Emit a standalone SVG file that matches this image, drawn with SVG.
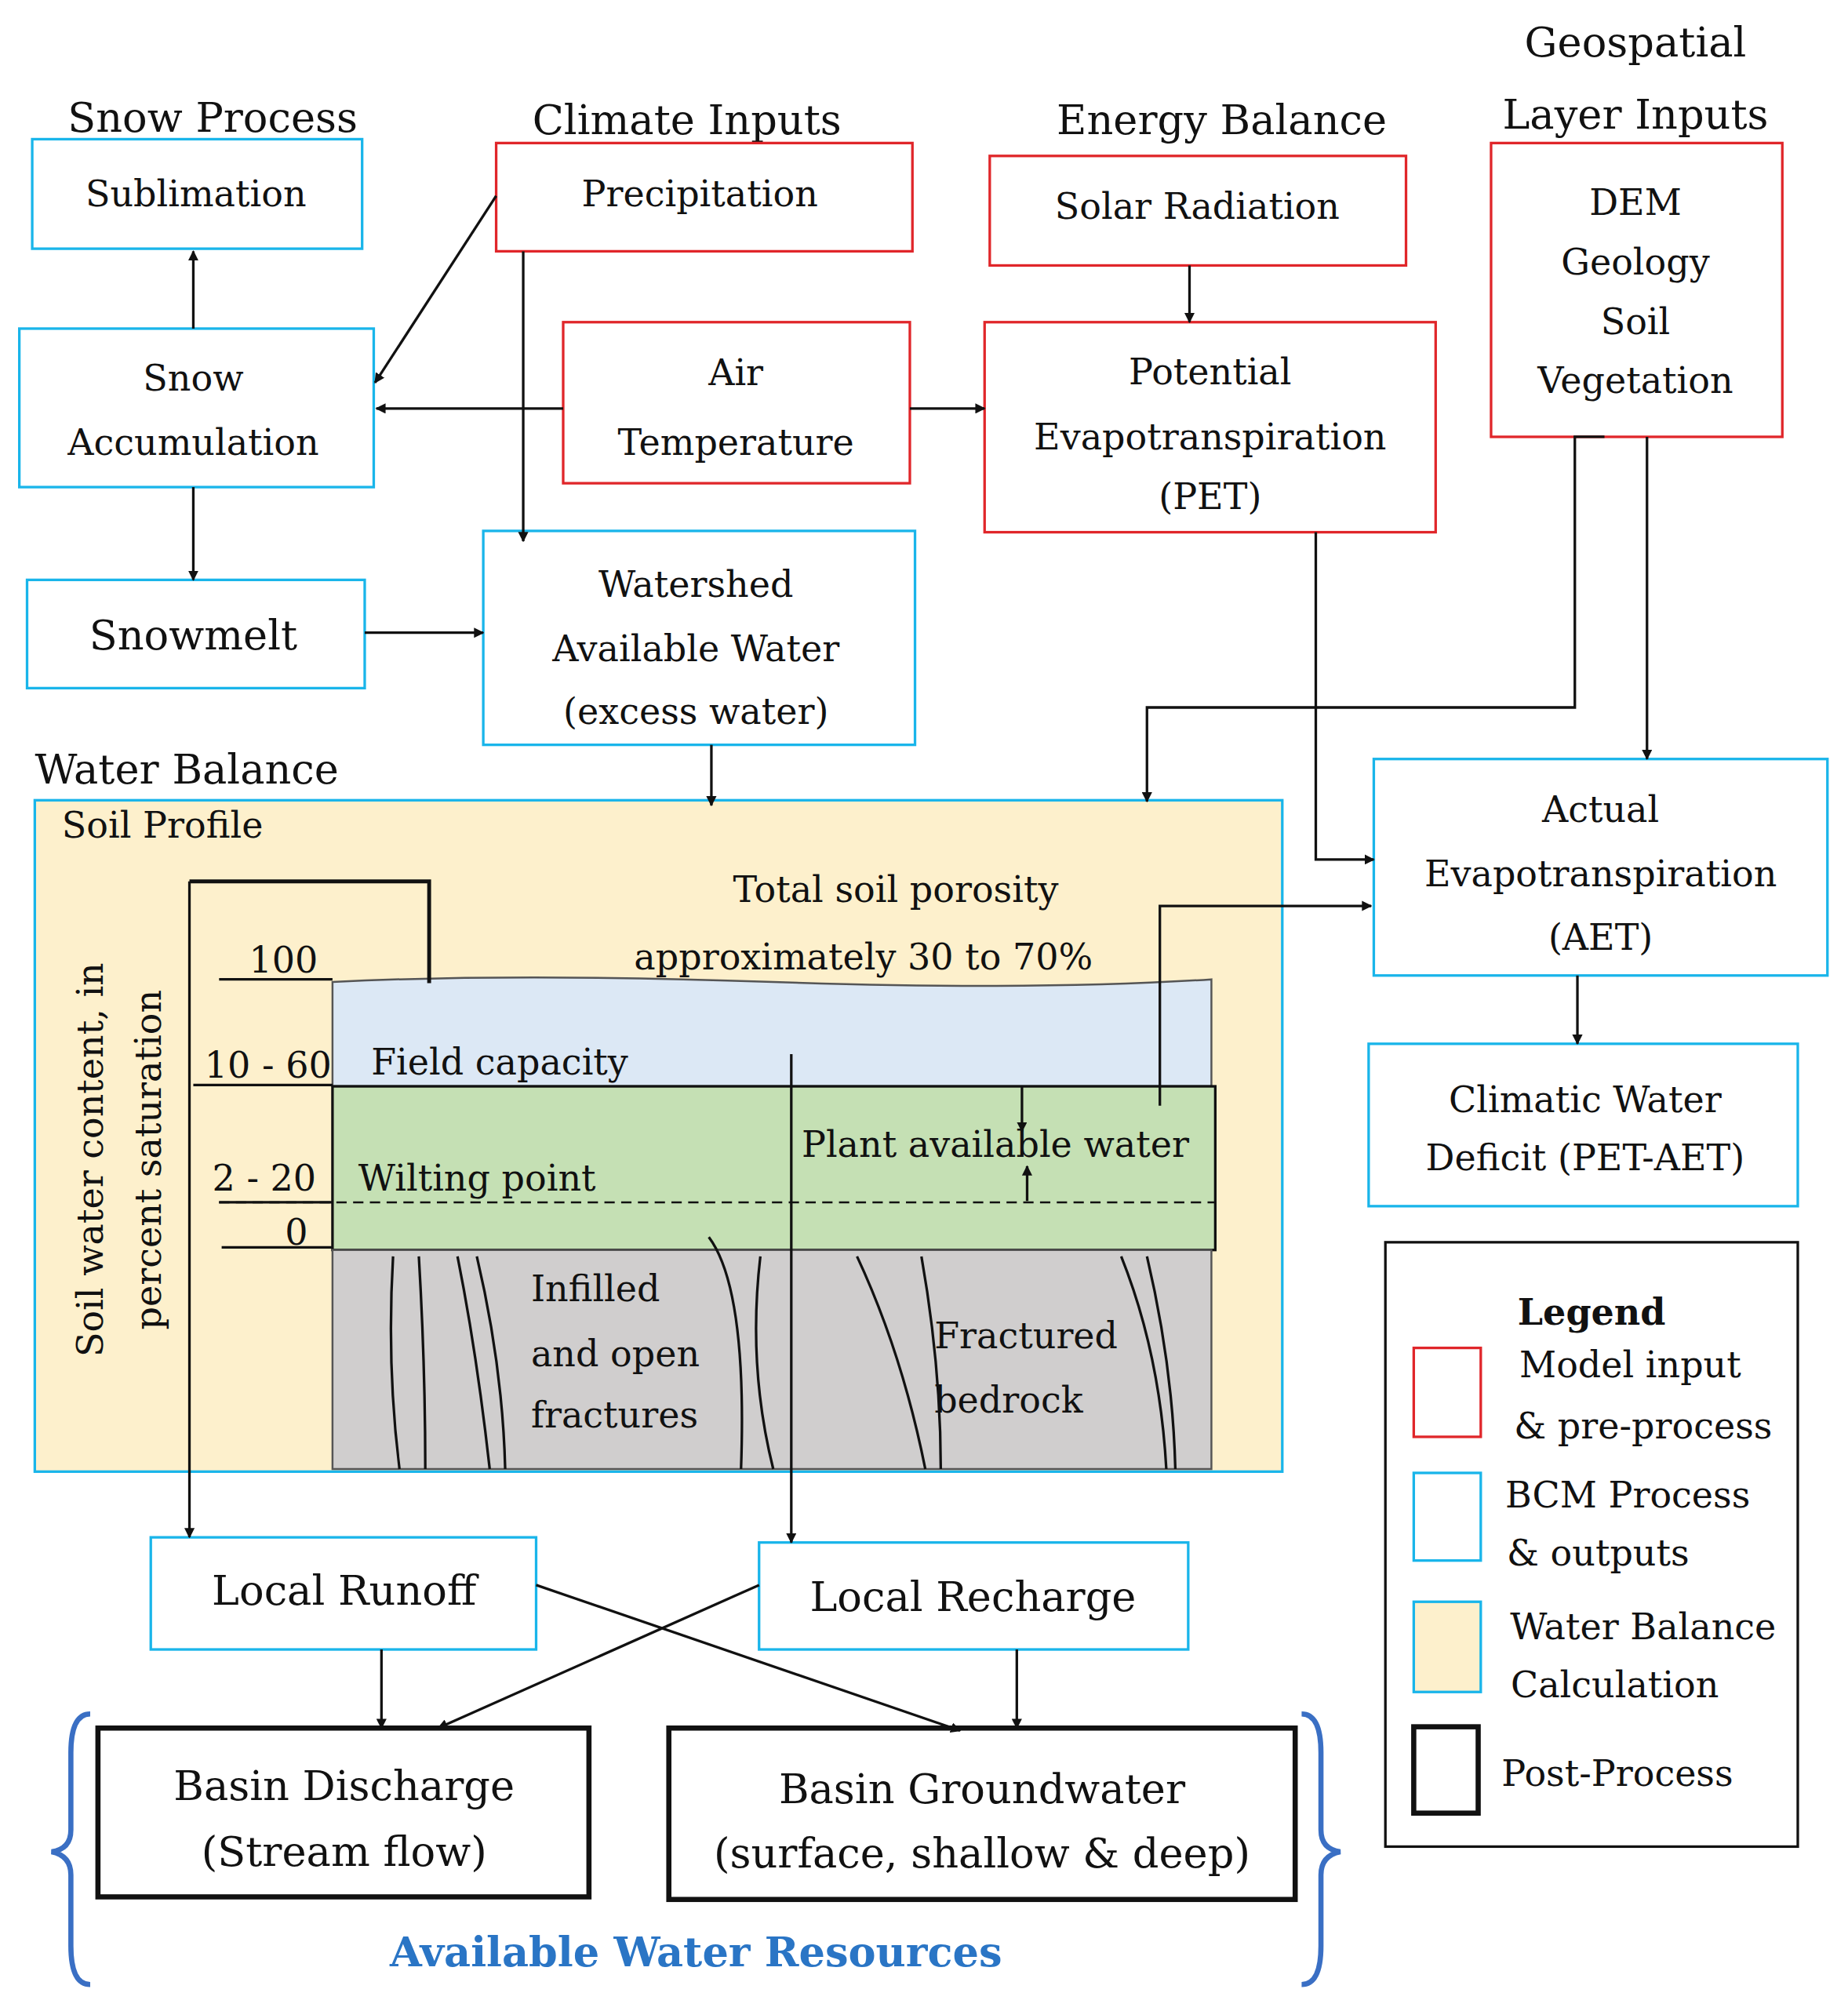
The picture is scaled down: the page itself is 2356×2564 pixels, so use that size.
<svg xmlns="http://www.w3.org/2000/svg" width="2356" height="2564" viewBox="0 0 2356 2564">
<style>
text{font-family:"DejaVu Serif","Liberation Serif",serif;font-size:28px;fill:#111;text-anchor:middle}
.t{font-size:32px}
.l{text-anchor:start}
.r{fill:#fff;stroke:#e0262a;stroke-width:2}
.c{fill:#fff;stroke:#19b5ea;stroke-width:2}
.k{fill:#fff;stroke:#111;stroke-width:4}
.ln{fill:none;stroke:#111;stroke-width:2}
</style>
<defs><marker id="a" viewBox="0 0 10 10" refX="9" refY="5" markerWidth="8" markerHeight="8" markerUnits="userSpaceOnUse" orient="auto"><path d="M0,0L10,5L0,10z" fill="#111"/></marker>
<marker id="b" viewBox="0 0 10 10" refX="9" refY="5" markerWidth="14" markerHeight="14" markerUnits="userSpaceOnUse" orient="auto"><path d="M0,0L10,5L0,10z" fill="#111"/></marker></defs>
<rect width="2356" height="2564" fill="#fff"/>
<g transform="scale(1.643)">
<g id="titles">
<text class="t" x="165" y="102">Snow Process</text>
<text class="t" x="533" y="104">Climate Inputs</text>
<text class="t" x="948" y="104">Energy Balance</text>
<text class="t" x="1269" y="44">Geospatial</text>
<text class="t" x="1269" y="100">Layer Inputs</text>
<text class="t" x="145" y="608">Water Balance</text>
</g>
<g id="waterbalance">
<rect x="27" y="621" width="968" height="521" fill="#fdf0cc" stroke="#19b5ea" stroke-width="2"/>
<text class="l" x="48" y="650">Soil Profile</text>
<path d="M258,762 Q400,755 600,762 T940,760 L940,843 L258,843Z" fill="#dce8f5" stroke="#555" stroke-width="1.5"/>
<rect x="258" y="843" width="685" height="127" fill="#c5e0b4" stroke="#111" stroke-width="2"/>
<path d="M258,970 L940,970 L940,1140 L258,1140Z" fill="#d0cece" stroke="#555" stroke-width="1.5"/>
<g class="ln" stroke-width="1.5">
<path d="M305,975 Q300,1060 310,1140"/><path d="M325,975 Q330,1060 330,1140"/>
<path d="M355,975 Q370,1050 380,1140"/><path d="M370,975 Q390,1060 392,1140"/>
<path d="M550,960 Q580,1000 575,1140"/><path d="M590,975 Q580,1060 600,1140"/>
<path d="M665,975 Q700,1050 718,1140"/><path d="M715,975 Q730,1060 730,1140"/>
<path d="M870,975 Q900,1050 905,1140"/><path d="M890,975 Q910,1060 912,1140"/>
</g>
<path d="M170,933 L943,933" stroke="#111" stroke-width="1.5" stroke-dasharray="8,5"/>
<path class="ln" d="M170,760H258M150,842H258M170,933H258M172,968H258"/>
<text x="220" y="755">100</text><text x="208" y="836">10 - 60</text><text x="205" y="924">2 - 20</text><text x="230" y="966">0</text>
<text class="l" x="288" y="834">Field capacity</text>
<text class="l" x="278" y="924">Wilting point</text>
<text class="l" x="622" y="898">Plant available water</text>
<text x="695" y="700">Total soil porosity</text>
<text x="670" y="752">approximately 30 to 70%</text>
<text class="l" x="412" y="1010">Infilled</text><text class="l" x="412" y="1060">and open</text><text class="l" x="412" y="1108">fractures</text>
<text class="l" x="725" y="1046">Fractured</text><text class="l" x="725" y="1096">bedrock</text>
<text transform="translate(80,900) rotate(-90)">Soil water content, in</text>
<text transform="translate(125,900) rotate(-90)">percent saturation</text>
<path class="ln" d="M793,843V878" marker-end="url(#a)"/><path class="ln" d="M797,932V905" marker-end="url(#a)"/>
</g>
<g id="nodes">
<g id="sub"><rect class="c" x="25" y="108" width="256" height="85"/><text x="152" y="160">Sublimation</text></g>
<g id="snowacc"><rect class="c" x="15" y="255" width="275" height="123"/><text x="150" y="303">Snow</text><text x="150" y="353">Accumulation</text></g>
<g id="snowmelt"><rect class="c" x="21" y="450" width="262" height="84"/><text class="t" x="150" y="504">Snowmelt</text></g>
<g id="precip"><rect class="r" x="385" y="111" width="323" height="84"/><text x="543" y="160">Precipitation</text></g>
<g id="air"><rect class="r" x="437" y="250" width="269" height="125"/><text x="571" y="299">Air</text><text x="571" y="353">Temperature</text></g>
<g id="wat"><rect class="c" x="375" y="412" width="335" height="166"/><text x="540" y="463">Watershed</text><text x="540" y="513">Available Water</text><text x="540" y="562">(excess water)</text></g>
<g id="solar"><rect class="r" x="768" y="121" width="323" height="85"/><text x="929" y="170">Solar Radiation</text></g>
<g id="pet"><rect class="r" x="764" y="250" width="350" height="163"/><text x="939" y="298">Potential</text><text x="939" y="349">Evapotranspiration</text><text x="939" y="395">(PET)</text></g>
<g id="dem"><rect class="r" x="1157" y="111" width="226" height="228"/><text x="1269" y="167">DEM</text><text x="1269" y="213">Geology</text><text x="1269" y="259">Soil</text><text x="1269" y="305">Vegetation</text></g>
<g id="aet"><rect class="c" x="1066" y="589" width="352" height="168"/><text x="1242" y="638">Actual</text><text x="1242" y="688">Evapotranspiration</text><text x="1242" y="737">(AET)</text></g>
<g id="cwd"><rect class="c" x="1062" y="810" width="333" height="126"/><text x="1230" y="863">Climatic Water</text><text x="1230" y="908">Deficit (PET-AET)</text></g>
<g id="runoff"><rect class="c" x="117" y="1193" width="299" height="87"/><text class="t" x="267" y="1245">Local Runoff</text></g>
<g id="recharge"><rect class="c" x="589" y="1197" width="333" height="83"/><text class="t" x="755" y="1250">Local Recharge</text></g>
<g id="discharge"><rect class="k" x="76" y="1341" width="381" height="131"/><text class="t" x="267" y="1397">Basin Discharge</text><text class="t" x="267" y="1448">(Stream flow)</text></g>
<g id="gw"><rect class="k" x="519" y="1341" width="486" height="133"/><text class="t" x="762" y="1399">Basin Groundwater</text><text class="t" x="762" y="1449">(surface, shallow &amp; deep)</text></g>
<g id="awr"><text x="540" y="1526" style="font-weight:bold;fill:#2a75c5;font-size:32px">Available Water Resources</text>
<path d="M70,1330 Q55,1330 55,1360 L55,1420 Q55,1435 40,1437 Q55,1440 55,1455 L55,1510 Q55,1540 70,1540" fill="none" stroke="#3a6fc4" stroke-width="4"/>
<path d="M1010,1330 Q1025,1330 1025,1360 L1025,1420 Q1025,1435 1040,1437 Q1025,1440 1025,1455 L1025,1510 Q1025,1540 1010,1540" fill="none" stroke="#3a6fc4" stroke-width="4"/></g>
<g id="legend"><rect x="1075" y="964" width="320" height="469" fill="#fff" stroke="#111" stroke-width="2"/>
<text x="1235" y="1028" style="font-weight:bold">Legend</text>
<rect class="r" x="1097" y="1046" width="52" height="69"/><text x="1265" y="1069">Model input</text><text x="1275" y="1116">&amp; pre-process</text>
<rect class="c" x="1097" y="1143" width="52" height="68"/><text x="1263" y="1170">BCM Process</text><text x="1240" y="1215">&amp; outputs</text>
<rect x="1097" y="1243" width="52" height="70" fill="#fdf0cc" stroke="#19b5ea" stroke-width="2"/><text x="1275" y="1272">Water Balance</text><text x="1253" y="1317">Calculation</text>
<rect class="k" x="1097" y="1340" width="50" height="67"/><text x="1255" y="1386">Post-Process</text></g>
</g>
<g id="connectors" class="ln">
<path d="M150,255V195" marker-end="url(#a)"/>
<path d="M385,152L291,297" marker-end="url(#a)"/>
<path d="M406,195V420" marker-end="url(#a)"/>
<path d="M437,317H292" marker-end="url(#a)"/>
<path d="M706,317H764" marker-end="url(#a)"/>
<path d="M150,378V450" marker-end="url(#a)"/>
<path d="M283,491H375" marker-end="url(#a)"/>
<path d="M923,206V250" marker-end="url(#a)"/>
<path d="M552,578V625" marker-end="url(#a)"/>
<path d="M1245,339H1222V549H890V622" marker-end="url(#a)"/>
<path d="M1278,339V589" marker-end="url(#a)"/>
<path d="M1021,413V667H1066" marker-end="url(#a)"/>
<path d="M900,858V703H1064" marker-end="url(#a)"/>
<path d="M1224,757V810" marker-end="url(#a)"/>
<path d="M333,763V684H147" stroke-width="3"/>
<path d="M147,684V1193" marker-end="url(#a)"/>
<path d="M614,818V1197" marker-end="url(#a)"/>
<path d="M296,1280V1341" marker-end="url(#a)"/>
<path d="M789,1280V1341" marker-end="url(#a)"/>
<path d="M589,1230L340,1341" marker-end="url(#a)"/>
<path d="M416,1230L745,1343" marker-end="url(#a)"/>
</g>
</g>
</svg>
